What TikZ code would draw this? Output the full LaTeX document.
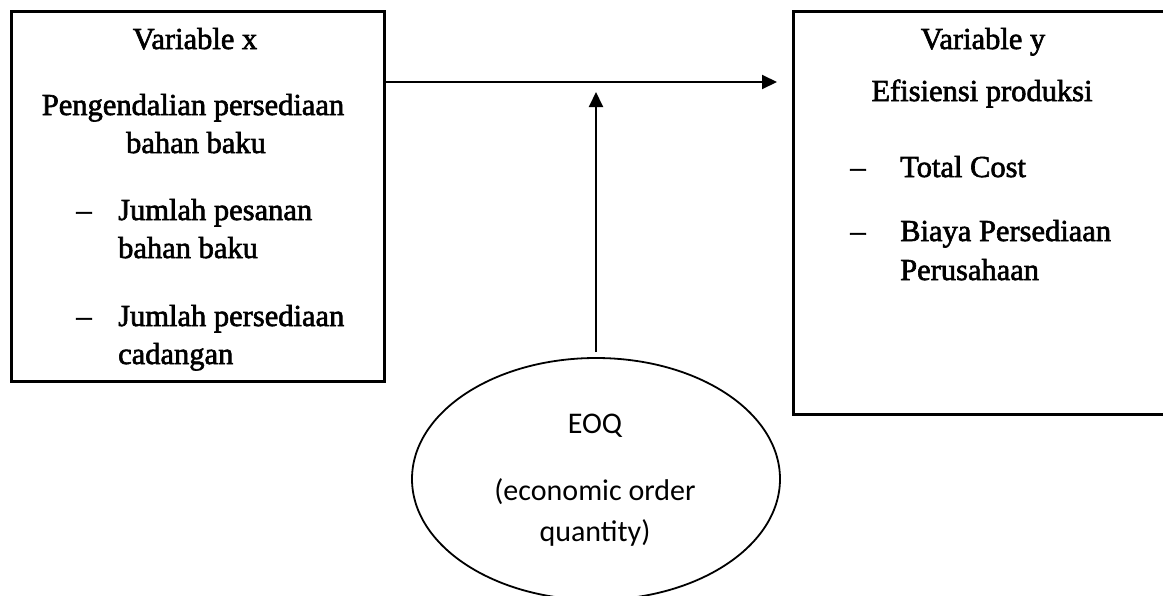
\documentclass[tikz,border=0pt]{standalone}
\usepackage{fontspec}
\setmainfont{Liberation Serif}
\newfontfamily\tnr{Liberation Serif}[FakeBold=2]
\newfontfamily\calib{Carlito}
\usetikzlibrary{arrows.meta,shapes.geometric}
\begin{document}
\begin{tikzpicture}[x=1pt,y=-1pt,
  box/.style={draw, line width=2.6pt, inner sep=0pt, anchor=north west},
  txt/.style={anchor=base, inner sep=0pt, font=\tnr\fontsize{30.5}{36}\selectfont},
  item/.style={txt, anchor=base west},
  ctxt/.style={anchor=base, inner sep=0pt, font=\calib\fontsize{30}{36}\selectfont},
  arr/.style={line width=2pt, -{Triangle[length=15pt,width=14pt]}}
]
\useasboundingbox (0,0) rectangle (1163,595);
\clip (0,0) rectangle (1163,595);
\fill[white] (0,0) rectangle (1163,595);

% boxes
\node[box, minimum width=373pt, minimum height=370pt] (xbox) at (10,10) {};
\node[box, minimum width=400pt, minimum height=403pt] (ybox) at (792,10) {};
\node[draw, ellipse, line width=1.8pt, inner sep=0pt,
      minimum width=368pt, minimum height=242pt] (eoq) at (596,479) {};

% left box text
\node[txt] (vx) at (195,49) {Variable x};
\node[txt] (px1) at (193,115) {Pengendalian persediaan};
\node[txt] (px2) at (196,153) {bahan baku};
\node[txt] (dx1) at (84,220) {–};
\node[item] (ix1) at (118,220) {Jumlah pesanan};
\node[item] (ix1b) at (118,258) {bahan baku};
\node[txt] (dx2) at (84,326) {–};
\node[item] (ix2) at (118,326) {Jumlah persediaan};
\node[item] (ix2b) at (118,364) {cadangan};

% right box text
\node[txt] (vy) at (983,49) {Variable y};
\node[txt] (py1) at (982,101) {Efisiensi produksi};
\node[txt] (dy1) at (858,177) {–};
\node[item] (iy1) at (900,177) {Total Cost};
\node[txt] (dy2) at (858,241) {–};
\node[item] (iy2) at (900,241) {Biaya Persediaan};
\node[item] (iy2b) at (900,280) {Perusahaan};

% ellipse text
\node[ctxt] (e1) at (595,433) {EOQ};
\node[ctxt] (e2) at (595,500) {(economic order};
\node[ctxt] (e3) at (595,541) {quantity)};

% connectors
\coordinate (hy) at (0,82);
\coordinate (vtip) at (597,92);
\draw[arr, shorten >=15pt] (xbox.east |- hy) -- (ybox.west |- hy);
\draw[arr, shorten <=5pt] (eoq.north) -- (eoq.north |- vtip);
\end{tikzpicture}
\end{document}
